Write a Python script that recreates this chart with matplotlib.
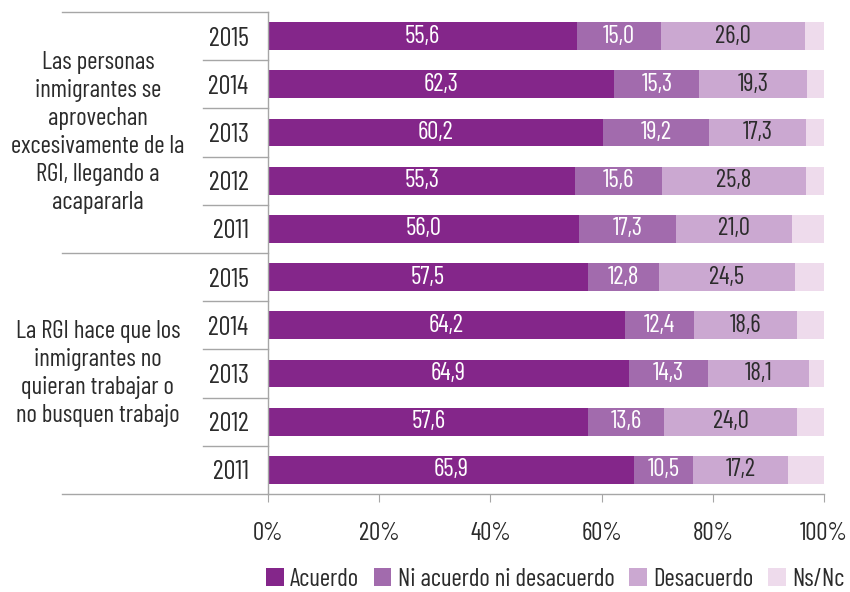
import matplotlib.pyplot as plt
import matplotlib.transforms as mtransforms
import numpy as np

plt.rcParams['font.family'] = ['Barlow Condensed', 'Roboto Condensed', 'Archivo Narrow', 'DejaVu Sans']

FONT_SIZE = 18
TEXT_COLOR = "#2b2b2b"
LINE_COLOR = "#a6a6a6"

groups = ["Las personas\ninmigrantes se\naprovechan\nexcesivamente de la\nRGI, llegando a\nacapararla",
          "La RGI hace que los\ninmigrantes no\nquieran trabajar o\nno busquen trabajo"]
years = ["2015", "2014", "2013", "2012", "2011", "2015", "2014", "2013", "2012", "2011"]

acuerdo = [55.6, 62.3, 60.2, 55.3, 56.0, 57.5, 64.2, 64.9, 57.6, 65.9]
ni_acuerdo = [15.0, 15.3, 19.2, 15.6, 17.3, 12.8, 12.4, 14.3, 13.6, 10.5]
desacuerdo = [26.0, 19.3, 17.3, 25.8, 21.0, 24.5, 18.6, 18.1, 24.0, 17.2]
ns_nc = [3.4, 3.1, 3.3, 3.3, 5.7, 5.2, 4.8, 2.7, 4.8, 6.4]

series = ["Acuerdo", "Ni acuerdo ni desacuerdo", "Desacuerdo", "Ns/Nc"]
colors = ["#84268a", "#a26bad", "#cba8d1", "#eedbec"]
label_colors = ["white", "white", TEXT_COLOR, None]

fig = plt.figure(figsize=(8.5, 5.92), dpi=100)
ax = fig.add_axes([268 / 850, 1 - 494 / 592, 556 / 850, 482 / 592])

y = np.arange(len(years))
left = np.zeros(len(years))
for vals, name, col, lcol in zip([acuerdo, ni_acuerdo, desacuerdo, ns_nc], series, colors, label_colors):
    vals = np.array(vals)
    ax.barh(y, vals, left=left, height=0.58, color=col, label=name)
    if lcol is not None:
        for yi, l, v in zip(y, left, vals):
            ax.text(l + v / 2, yi, f"{v:.1f}".replace(".", ","), ha="center", va="center",
                    color=lcol, fontsize=FONT_SIZE)
    left += vals

ax.set_xlim(0, 100)
ax.set_ylim(len(years) - 0.5, -0.5)
ax.set_xticks(np.arange(0, 101, 20))
ax.set_xticklabels([f"{t}%" for t in range(0, 101, 20)])
ax.set_yticks(y)
ax.set_yticklabels(years)
ax.tick_params(axis="x", length=6, color=LINE_COLOR, pad=14, labelsize=FONT_SIZE, labelcolor=TEXT_COLOR)
ax.tick_params(axis="y", length=0, pad=14, labelsize=19, labelcolor=TEXT_COLOR)
for s in ["top", "right"]:
    ax.spines[s].set_visible(False)
for s in ["left", "bottom"]:
    ax.spines[s].set_color(LINE_COLOR)
    ax.spines[s].set_linewidth(1)

# separator lines left of the axis
trans = mtransforms.blended_transform_factory(ax.transAxes, ax.transData)
for b in [-0.5, 4.5, 9.5]:
    ax.plot([-0.37, 0], [b, b], color=LINE_COLOR, lw=1, transform=trans, clip_on=False)
for b in [0.5, 1.5, 2.5, 3.5, 5.5, 6.5, 7.5, 8.5]:
    ax.plot([-0.117, 0], [b, b], color=LINE_COLOR, lw=1, transform=trans, clip_on=False)

for g, yc in zip(groups, [2, 7]):
    ax.text(-0.306, yc, g, transform=trans, ha="center", va="center", fontsize=FONT_SIZE,
            color=TEXT_COLOR, linespacing=1.27)

fig.legend(loc="center left", bbox_to_anchor=(266 / 850, 1 - 579 / 592), ncol=4, frameon=False,
           fontsize=FONT_SIZE, handlelength=0.7, handleheight=0.7, handletextpad=0.25,
           columnspacing=0.6, labelcolor=TEXT_COLOR, borderpad=0, borderaxespad=0)

fig.savefig("out.png", dpi=100)
